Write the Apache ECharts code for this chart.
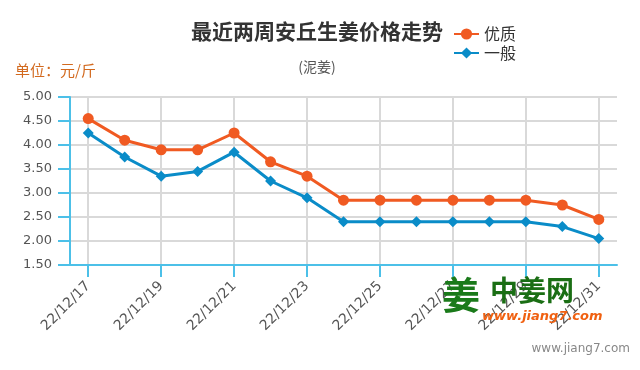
<!DOCTYPE html>
<html><head><meta charset="utf-8">
<script src="https://cdn.jsdelivr.net/npm/echarts@6/dist/echarts.min.js"></script>
<style>html,body{margin:0;padding:0;background:#fff}#c{width:640px;height:370px}</style>
</head><body><div id="c"></div>
<script>
const categories = ['22/12/17','22/12/18','22/12/19','22/12/20','22/12/21','22/12/22','22/12/23','22/12/24','22/12/25','22/12/26','22/12/27','22/12/28','22/12/29','22/12/30','22/12/31'];
const premium = [4.55, 4.10, 3.90, 3.90, 4.25, 3.65, 3.35, 2.85, 2.85, 2.85, 2.85, 2.85, 2.85, 2.75, 2.45];
const ordinary = [4.25, 3.75, 3.35, 3.45, 3.85, 3.25, 2.90, 2.40, 2.40, 2.40, 2.40, 2.40, 2.40, 2.30, 2.05];
const seriesNames = ['优质', '一般'];
const titleText = '最近两周安丘生姜价格走势';
const subText = '(泥姜)';
const unitText = '单位：元/斤';

const axisBlue = '#4cc0e8';
const chart = echarts.init(document.getElementById('c'));
chart.setOption({
  animation: false,
  title: {
    text: titleText, subtext: subText, left: 312, textAlign: 'center', top: 16, itemGap: 18,
    textStyle: {fontSize: 21, fontWeight: 'bold', color: '#333', fontFamily: 'Noto Sans CJK SC'},
    subtextStyle: {fontSize: 14, color: '#555', fontFamily: 'Noto Sans CJK SC'}
  },
  legend: {
    orient: 'vertical', left: 448, top: 21, itemGap: 3, itemWidth: 25, itemHeight: 14,
    textStyle: {fontSize: 16, color: '#333', fontFamily: 'Noto Sans CJK SC'},
    data: seriesNames
  },
  graphic: [
    {type: 'text', left: 15, top: 63, style: {text: unitText, fill: '#d2691e', font: '15px "Noto Sans CJK SC"'}},
    {type: 'text', left: 442, top: 276, z: 100, style: {text: '姜', fill: '#1a7a1a', font: 'bold 38px "Noto Sans CJK SC"'}},
    {type: 'text', left: 490, top: 276, z: 100, style: {text: '中姜网', fill: '#1a6e14', font: 'bold 28px "Noto Sans CJK SC"'}},
    {type: 'text', left: 482, top: 310, z: 100, style: {text: 'www.jiang7.com', fill: '#f06010', font: 'italic bold 13px "DejaVu Sans"'}},
    {type: 'text', right: 10, top: 343, style: {text: 'www.jiang7.com', fill: '#888', font: '12px "DejaVu Sans"'}}
  ],
  grid: {left: 70, right: 23, top: 97, bottom: 105},
  xAxis: {
    type: 'category', data: categories, boundaryGap: true,
    axisLine: {lineStyle: {color: axisBlue, width: 2}},
    axisTick: {show: true, interval: 1, alignWithLabel: true, length: 12, lineStyle: {color: axisBlue, width: 2}},
    axisLabel: {interval: 1, rotate: 45, margin: 19, color: '#555', fontSize: 14, fontFamily: 'DejaVu Sans'},
    splitLine: {show: true, interval: 1, alignWithLabel: true, lineStyle: {color: '#d9d9d9', width: 2}}
  },
  yAxis: {
    type: 'value', min: 1.5, max: 5, interval: 0.5,
    axisLine: {show: true, lineStyle: {color: axisBlue, width: 2}},
    axisTick: {show: true, length: 12, lineStyle: {color: axisBlue, width: 2}},
    axisLabel: {margin: 18, color: '#555', fontSize: 13, fontFamily: 'DejaVu Sans', formatter: v => v.toFixed(2)},
    splitLine: {show: true, lineStyle: {color: '#d9d9d9', width: 2}}
  },
  series: [
    {name: seriesNames[0], type: 'line', data: premium, symbol: 'circle', symbolSize: 11,
     itemStyle: {color: '#f05a22'}, lineStyle: {width: 3, color: '#f05a22'}},
    {name: seriesNames[1], type: 'line', data: ordinary, symbol: 'diamond', symbolSize: 11,
     itemStyle: {color: '#0a8cc8'}, lineStyle: {width: 3, color: '#0a8cc8'}}
  ]
});
</script></body></html>
